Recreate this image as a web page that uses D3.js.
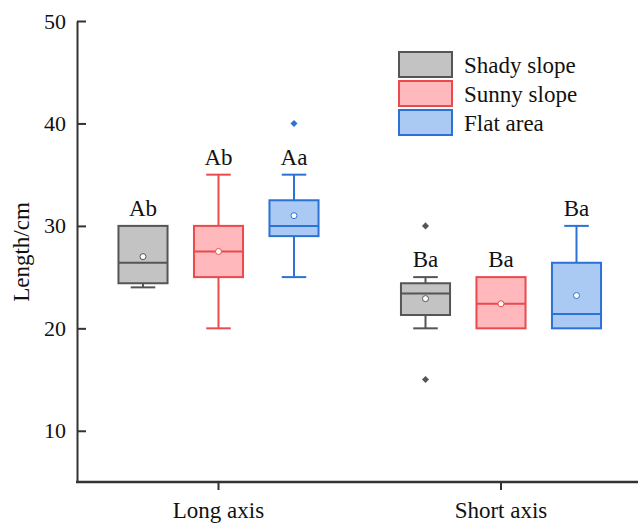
<!DOCTYPE html>
<html>
<head>
<meta charset="utf-8">
<script src="https://cdn.jsdelivr.net/npm/d3@7"></script>
<style>
  html, body { margin: 0; padding: 0; background: #ffffff; }
  svg { display: block; }
  svg text { font-family: "Liberation Serif", "Times New Roman", serif; }
</style>
</head>
<body>
<svg id="chart" width="638" height="525"></svg>
<script>
// ---- data ----
const groups = ["Long axis", "Short axis"];
const series = ["Shady slope", "Sunny slope", "Flat area"];
// per group, per series
const whiskerLow  = [[24, 20, 25], [20, 20, 20]];
const q1          = [[24.4, 25, 29], [21.3, 20, 20]];
const median      = [[26.4, 27.5, 30], [23.4, 22.4, 21.4]];
const q3          = [[30, 30, 32.5], [24.4, 25, 26.4]];
const whiskerHigh = [[30, 35, 35], [25, 25, 30]];
const means       = [[27, 27.5, 31], [22.9, 22.4, 23.2]];
const outliers    = [[[], [], [40]], [[30, 15], [], []]];
const sigLabels   = [["Ab", "Ab", "Aa"], ["Ba", "Ba", "Ba"]];
const yTicks = [10, 20, 30, 40, 50];

const fills   = ["#c3c3c3", "#ffb9bc", "#abcaf3"];
const strokes = ["#555555", "#ea4a4d", "#2a72d6"];

// ---- scales ----
const svg = d3.select("#chart");
const y = d3.scaleLinear().domain([5, 50]).range([482, 21]);
const x0 = d3.scalePoint().domain(groups).range([218.5, 501]);
const x1 = d3.scaleBand().domain(series).range([-113.25, 113.25]).padding(0);
const boxW = x1.bandwidth() * 0.65;
const capW = boxW / 2;

// ---- axes ----
const yAxis = d3.axisLeft(y).tickValues(yTicks).tickSizeInner(-9).tickSizeOuter(0).tickPadding(11);
const gy = svg.append("g").attr("transform", "translate(77,0)").call(yAxis)
  .attr("font-family", null).attr("font-size", null);
gy.select(".domain").attr("stroke", "#333").attr("stroke-width", 2);
gy.selectAll(".tick line").attr("stroke", "#333").attr("stroke-width", 2);
gy.selectAll(".tick text").style("font-size", "22px")
  .style("font-family", "'Liberation Serif', serif").attr("fill", "#111");

// x axis line
svg.append("line").attr("x1", 76).attr("x2", 638).attr("y1", 482).attr("y2", 482)
  .attr("stroke", "#333").attr("stroke-width", 2.5);
const gx = svg.append("g");
gx.selectAll("line.xt").data(groups).join("line")
  .attr("x1", d => x0(d)).attr("x2", d => x0(d)).attr("y1", 482).attr("y2", 490)
  .attr("stroke", "#333").attr("stroke-width", 2);
gx.selectAll("text").data(groups).join("text")
  .attr("x", d => x0(d)).attr("y", 518).attr("text-anchor", "middle")
  .attr("font-size", 23).attr("fill", "#111").text(d => d);

// y title
svg.append("text").attr("transform", "translate(29,252) rotate(-90)")
  .attr("text-anchor", "middle").attr("font-size", 23).attr("fill", "#111").text("Length/cm");

// ---- boxes ----
groups.forEach((g, gi) => {
  series.forEach((s, si) => {
    const cx = x0(g) + x1(s) + x1.bandwidth() / 2;
    const col = strokes[si];
    const bg = svg.append("g");
    // whiskers
    bg.append("line").attr("x1", cx).attr("x2", cx)
      .attr("y1", y(q3[gi][si])).attr("y2", y(whiskerHigh[gi][si]))
      .attr("stroke", col).attr("stroke-width", 2);
    bg.append("line").attr("x1", cx).attr("x2", cx)
      .attr("y1", y(q1[gi][si])).attr("y2", y(whiskerLow[gi][si]))
      .attr("stroke", col).attr("stroke-width", 2);
    if (whiskerHigh[gi][si] > q3[gi][si])
      bg.append("line").attr("x1", cx - capW / 2).attr("x2", cx + capW / 2)
        .attr("y1", y(whiskerHigh[gi][si])).attr("y2", y(whiskerHigh[gi][si]))
        .attr("stroke", col).attr("stroke-width", 2);
    if (whiskerLow[gi][si] < q1[gi][si])
      bg.append("line").attr("x1", cx - capW / 2).attr("x2", cx + capW / 2)
        .attr("y1", y(whiskerLow[gi][si])).attr("y2", y(whiskerLow[gi][si]))
        .attr("stroke", col).attr("stroke-width", 2);
    // box
    bg.append("rect").attr("x", cx - boxW / 2).attr("width", boxW)
      .attr("y", y(q3[gi][si])).attr("height", y(q1[gi][si]) - y(q3[gi][si]))
      .attr("fill", fills[si]).attr("stroke", col).attr("stroke-width", 2);
    // median
    bg.append("line").attr("x1", cx - boxW / 2).attr("x2", cx + boxW / 2)
      .attr("y1", y(median[gi][si])).attr("y2", y(median[gi][si]))
      .attr("stroke", col).attr("stroke-width", 2);
    // mean
    bg.append("circle").attr("cx", cx).attr("cy", y(means[gi][si])).attr("r", 3)
      .attr("fill", "#fff").attr("stroke", col).attr("stroke-width", 1);
    // outliers
    outliers[gi][si].forEach(v => {
      bg.append("path").attr("d", d3.symbol(d3.symbolDiamond2, 32)())
        .attr("transform", `translate(${cx},${y(v)})`)
        .attr("fill", col);
    });
    // significance label
    bg.append("text").attr("x", cx).attr("y", y(whiskerHigh[gi][si]) - 10)
      .attr("text-anchor", "middle").attr("font-size", 23).attr("fill", "#111")
      .text(sigLabels[gi][si]);
  });
});

// ---- legend ----
const leg = svg.append("g").attr("transform", "translate(399,52)");
series.forEach((s, si) => {
  leg.append("rect").attr("x", 0).attr("y", si * 29).attr("width", 53).attr("height", 25)
    .attr("fill", fills[si]).attr("stroke", strokes[si]).attr("stroke-width", 2);
  leg.append("text").attr("x", 65).attr("y", si * 29 + 21)
    .attr("font-size", 23).attr("fill", "#111").text(s);
});
</script>
</body>
</html>
